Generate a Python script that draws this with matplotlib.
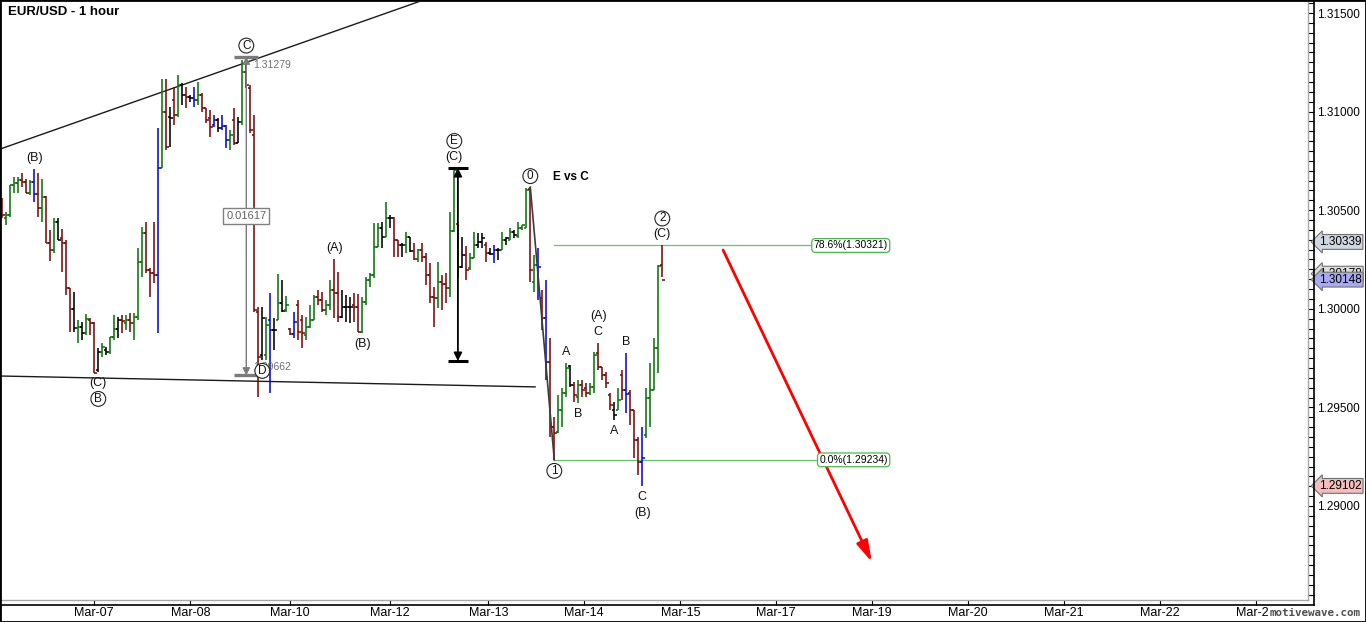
import numpy as np
import matplotlib
matplotlib.use("Agg")
import matplotlib.pyplot as plt
from matplotlib.collections import LineCollection
from matplotlib.lines import Line2D
from matplotlib.patches import Rectangle
from matplotlib.ticker import MultipleLocator, FormatStrFormatter
from matplotlib.transforms import blended_transform_factory

plt.rcParams['font.family'] = ['Liberation Sans', 'DejaVu Sans']

# ---- EUR/USD hourly bars ----
highs = [
    1.30562, 1.30491, 1.30628, 1.30668, 1.30668, 1.30689, 1.30658, 1.30653, 1.30709, 1.30689,
    1.30658, 1.30572, 1.30400, 1.30461, 1.30461, 1.30405, 1.30349, 1.30106, 1.30085, 1.29943,
    1.29933, 1.29974, 1.29953, 1.29933, 1.29801, 1.29827, 1.29806, 1.29857, 1.29969, 1.29958,
    1.29969, 1.29969, 1.29979, 1.29979, 1.30308, 1.30415, 1.30440, 1.30207, 1.30440, 1.30917,
    1.31165, 1.31165, 1.31023, 1.31125, 1.31186, 1.31145, 1.31125, 1.31084, 1.31125, 1.31150,
    1.31094, 1.31018, 1.31008, 1.30983, 1.30968, 1.30983, 1.30932, 1.30907, 1.31018, 1.30973,
    1.31262, 1.31279, 1.31135, 1.30983, 1.30009, 1.30009, 1.29958, 1.30080, 1.29953, 1.30177,
    1.30146, 1.30065, 1.29903, 1.29984, 1.30045, 1.29969, 1.29958, 1.30019, 1.30070, 1.30095,
    1.30085, 1.30045, 1.30146, 1.30253, 1.30187, 1.30095, 1.30070, 1.30060, 1.30080, 1.30075,
    1.30060, 1.30161, 1.30182, 1.30435, 1.30435, 1.30440, 1.30542, 1.30476, 1.30466, 1.30349,
    1.30334, 1.30390, 1.30364, 1.30334, 1.30303, 1.30334, 1.30283, 1.30232, 1.30111, 1.30237,
    1.30171, 1.30182, 1.30491, 1.30714, 1.30430, 1.30364, 1.30319, 1.30283, 1.30390, 1.30384,
    1.30384, 1.30339, 1.30308, 1.30324, 1.30308, 1.30390, 1.30364, 1.30410, 1.30400, 1.30440,
    1.30425, 1.30612, 1.30617, 1.30273, 1.30308, 1.30095, 1.30146, 1.29852, 1.29451, 1.29563,
    1.29598, 1.29725, 1.29715, 1.29629, 1.29639, 1.29639, 1.29624, 1.29624, 1.29781, 1.29827,
    1.29705, 1.29680, 1.29573, 1.29528, 1.29598, 1.29690, 1.29776, 1.29588, 1.29487, 1.29350,
    1.29401, 1.29598, 1.29725, 1.29852, 1.30222, 1.30321,
]
lows = [
    1.30461, 1.30425, 1.30466, 1.30587, 1.30587, 1.30618, 1.30587, 1.30577, 1.30542, 1.30466,
    1.30440, 1.30334, 1.30242, 1.30283, 1.30349, 1.30187, 1.30070, 1.29882, 1.29882, 1.29827,
    1.29842, 1.29867, 1.29867, 1.29675, 1.29680, 1.29756, 1.29766, 1.29771, 1.29842, 1.29852,
    1.29877, 1.29893, 1.29882, 1.29842, 1.29943, 1.30161, 1.30182, 1.30060, 1.30131, 1.29877,
    1.30714, 1.30805, 1.30821, 1.30932, 1.30973, 1.31034, 1.31018, 1.31049, 1.31023, 1.31034,
    1.30998, 1.30942, 1.30871, 1.30922, 1.30897, 1.30907, 1.30815, 1.30805, 1.30831, 1.30841,
    1.30932, 1.31120, 1.30892, 1.29984, 1.29553, 1.29741, 1.29741, 1.29573, 1.29791, 1.29943,
    1.29984, 1.29984, 1.29867, 1.29852, 1.29842, 1.29801, 1.29842, 1.29903, 1.29943, 1.30019,
    1.29984, 1.29969, 1.29994, 1.29953, 1.29933, 1.29953, 1.29933, 1.29928, 1.29933, 1.29882,
    1.29877, 1.30019, 1.30111, 1.30156, 1.30313, 1.30308, 1.30364, 1.30410, 1.30263, 1.30263,
    1.30263, 1.30283, 1.30288, 1.30248, 1.30237, 1.30237, 1.30121, 1.30029, 1.29908, 1.30004,
    1.29994, 1.30029, 1.30060, 1.30390, 1.30156, 1.30207, 1.30146, 1.30197, 1.30258, 1.30308,
    1.30308, 1.30237, 1.30273, 1.30232, 1.30248, 1.30298, 1.30324, 1.30349, 1.30359, 1.30359,
    1.30400, 1.30410, 1.30136, 1.30085, 1.30045, 1.29893, 1.29639, 1.29350, 1.29234, 1.29370,
    1.29401, 1.29553, 1.29604, 1.29528, 1.29522, 1.29553, 1.29553, 1.29563, 1.29573, 1.29690,
    1.29639, 1.29598, 1.29487, 1.29436, 1.29487, 1.29538, 1.29472, 1.29411, 1.29243, 1.29157,
    1.29102, 1.29345, 1.29401, 1.29588, 1.29675, 1.30161,
]
opens = [
    1.30511, 1.30461, 1.30476, 1.30628, 1.30638, 1.30653, 1.30643, 1.30587, 1.30643, 1.30582,
    1.30511, 1.30567, 1.30334, 1.30298, 1.30440, 1.30359, 1.30334, 1.30106, 1.29999, 1.29903,
    1.29908, 1.29877, 1.29943, 1.29928, 1.29690, 1.29781, 1.29791, 1.29781, 1.29857, 1.29898,
    1.29943, 1.29928, 1.29943, 1.29928, 1.29958, 1.30237, 1.30384, 1.30197, 1.30182, 1.30171,
    1.30714, 1.30998, 1.30973, 1.31059, 1.30983, 1.31135, 1.31084, 1.31074, 1.31069, 1.31059,
    1.31084, 1.31018, 1.30968, 1.30932, 1.30957, 1.30917, 1.30927, 1.30856, 1.30957, 1.30841,
    1.30947, 1.31201, 1.31120, 1.30881, 1.29984, 1.29766, 1.29766, 1.29943, 1.29893, 1.29943,
    1.30029, 1.29994, 1.29898, 1.29872, 1.30019, 1.29943, 1.29867, 1.29908, 1.29943, 1.30060,
    1.30045, 1.29994, 1.30019, 1.30095, 1.30080, 1.29958, 1.30009, 1.30009, 1.30019, 1.30009,
    1.29882, 1.30035, 1.30146, 1.30171, 1.30313, 1.30410, 1.30364, 1.30461, 1.30461, 1.30349,
    1.30324, 1.30324, 1.30364, 1.30293, 1.30253, 1.30298, 1.30263, 1.30171, 1.30060, 1.30055,
    1.30136, 1.30126, 1.30106, 1.30395, 1.30430, 1.30212, 1.30273, 1.30207, 1.30258, 1.30324,
    1.30339, 1.30324, 1.30283, 1.30278, 1.30298, 1.30298, 1.30349, 1.30349, 1.30390, 1.30369,
    1.30410, 1.30410, 1.30608, 1.30136, 1.30222, 1.30055, 1.29953, 1.29730, 1.29401, 1.29375,
    1.29487, 1.29573, 1.29710, 1.29614, 1.29553, 1.29614, 1.29598, 1.29573, 1.29604, 1.29776,
    1.29705, 1.29664, 1.29563, 1.29487, 1.29487, 1.29664, 1.29588, 1.29573, 1.29487, 1.29335,
    1.29223, 1.29360, 1.29548, 1.29588, 1.29801, 1.30222,
]
closes = [
    1.30476, 1.30476, 1.30628, 1.30638, 1.30653, 1.30643, 1.30587, 1.30643, 1.30582, 1.30511,
    1.30567, 1.30334, 1.30298, 1.30440, 1.30349, 1.30334, 1.30106, 1.29999, 1.29903, 1.29908,
    1.29877, 1.29948, 1.29928, 1.29675, 1.29781, 1.29806, 1.29781, 1.29857, 1.29898, 1.29943,
    1.29938, 1.29943, 1.29928, 1.29958, 1.30237, 1.30384, 1.30197, 1.30182, 1.30171, 1.30714,
    1.30998, 1.30821, 1.30968, 1.30983, 1.31135, 1.31084, 1.31074, 1.31069, 1.31059, 1.31084,
    1.31018, 1.30957, 1.30922, 1.30957, 1.30917, 1.30927, 1.30856, 1.30881, 1.30841, 1.30947,
    1.31201, 1.31135, 1.30907, 1.29994, 1.29756, 1.29953, 1.29918, 1.29893, 1.29893, 1.30029,
    1.29989, 1.30019, 1.29872, 1.29933, 1.29882, 1.29877, 1.29908, 1.29943, 1.30060, 1.30045,
    1.29994, 1.30019, 1.30095, 1.30080, 1.29958, 1.30009, 1.30009, 1.30009, 1.30009, 1.29882,
    1.30035, 1.30146, 1.30171, 1.30313, 1.30410, 1.30364, 1.30461, 1.30461, 1.30349, 1.30324,
    1.30324, 1.30364, 1.30293, 1.30253, 1.30298, 1.30263, 1.30171, 1.30060, 1.30055, 1.30136,
    1.30126, 1.30106, 1.30395, 1.30704, 1.30212, 1.30273, 1.30197, 1.30258, 1.30324, 1.30339,
    1.30359, 1.30283, 1.30278, 1.30298, 1.30298, 1.30349, 1.30359, 1.30390, 1.30374, 1.30410,
    1.30425, 1.30600, 1.30197, 1.30222, 1.30212, 1.29953, 1.29730, 1.29401, 1.29370, 1.29487,
    1.29573, 1.29700, 1.29614, 1.29563, 1.29614, 1.29588, 1.29573, 1.29604, 1.29766, 1.29705,
    1.29664, 1.29624, 1.29512, 1.29462, 1.29538, 1.29588, 1.29568, 1.29487, 1.29335, 1.29223,
    1.29243, 1.29548, 1.29588, 1.29801, 1.30217, 1.30148,
]
# bar colouring used by the platform: g=up, r=down, b/k = other states
bar_kind = ("rggggrrgbr" "grrgkrrrkg" "kgrrkgkggk" "rgrgggrrrb" "grkrgkrkbg"
            "rrrbkbbgrk" "grrrrkgbkg" "kgrbrrgggr" "rggrrkkkrr" "gggggkgkrr"
            "kgkrgrrrrg" "rrggrkrggk" "krkbkgkgkg" "ggrgbrbrrg" "ggkrgrrggr"
            "rrrkgrbrrr" "bggggr")

# time axis: bar index where each day starts
day_starts = [23, 47, 72, 97, 121.5, 145.5, 169.5, 193.5, 217.5, 241.5, 265.5, 289.5, 313.5]
day_labels = ['Mar-07', 'Mar-08', 'Mar-10', 'Mar-12', 'Mar-13', 'Mar-14', 'Mar-15',
              'Mar-17', 'Mar-19', 'Mar-20', 'Mar-21', 'Mar-22', 'Mar-24']

# Elliott wave labels: (bar, text, at high/low); circled degree written as Ⓒ, ① ...
wave_labels = [
    (8, '(B)', 'hi'), (24, '(C)', 'lo'), (24, 'Ⓑ', 'lo'), (61, 'Ⓒ', 'hi'),
    (65, 'Ⓓ', 'lo'), (83, '(A)', 'hi'), (90, '(B)', 'lo'), (113, '(C)', 'hi'),
    (113, 'Ⓔ', 'hi'), (132, '⓪', 'hi'), (138, '①', 'lo'), (141, 'A', 'hi'),
    (144, 'B', 'lo'), (149, 'C', 'hi'), (149, '(A)', 'hi'), (153, 'A', 'lo'),
    (156, 'B', 'hi'), (160, 'C', 'lo'), (160, '(B)', 'lo'), (165, '(C)', 'hi'),
    (165, '②', 'hi'),
]
circled = {'Ⓑ': 'B', 'Ⓒ': 'C', 'Ⓓ': 'D', 'Ⓔ': 'E', '⓪': '0', '①': '1', '②': '2'}

# drawing tools
upper_trend = [(0, 1.30814), (100, 1.31528)]
lower_trend = [(0, 1.29659), (133, 1.29604)]
measure_bar, measure_top, measure_bottom = 61, 1.31279, 1.29662
swing_bar, swing_top, swing_bottom = 114, 1.30714, 1.29735
fib_from, fib_to, fib_end = 132, 138, 221.4
fib_levels = [0.786, 0.0]
projection = [(180.2, 1.30298), (217.4, 1.28716)]
price_tags = [(1.30339, '#cfd7e2'), (1.30178, '#dedede'), (1.30148, '#a9a9f2'), (1.29102, '#f4bcbc')]

# ---- layout (pixels of a 1366x622 canvas) ----
W, H, DPI = 1366, 622, 100
BAR_PX, FIRST_PX = 4.0, 2.3
PX_PRICE = 19720.0  # pixels per 1.0 of price


def px_box(x0, y0, x1, y1):
    return [x0 / W, 1 - y1 / H, (x1 - x0) / W, (y1 - y0) / H]


fig = plt.figure(figsize=(W / DPI, H / DPI), dpi=DPI)
ax = fig.add_axes(px_box(1, 2, 1308, 600))
ax.set_xlim((1 - FIRST_PX) / BAR_PX, (1308 - FIRST_PX) / BAR_PX)
ax.set_ylim(1.315 - (600 - 13) / PX_PRICE, 1.315 - (2 - 13) / PX_PRICE)

colour_map = {'g': '#0b730b', 'r': '#7a0a0a', 'b': '#0a0ad0', 'k': '#000000'}
segs, cols = [], []
for i in range(len(closes)):
    c = colour_map[bar_kind[i]]
    segs += [[(i, lows[i]), (i, highs[i])],
             [(i - 0.6, opens[i]), (i, opens[i])],
             [(i, closes[i]), (i + 0.6, closes[i])]]
    cols += [c, c, c]
ax.add_collection(LineCollection(segs, colors=cols, linewidths=1.15, capstyle='butt', zorder=3))

# trend lines
for (x0, y0), (x1, y1), xs in [(upper_trend[0], upper_trend[1], (-1, 112)),
                               (lower_trend[0], lower_trend[1], (-1, 133.2))]:
    k = (y1 - y0) / (x1 - x0)
    ax.plot(xs, [y0 + k * (xs[0] - x0), y0 + k * (xs[1] - x0)], color='#1a1a1a', lw=1.0, zorder=2)

# wave 0 -> 1 connector
ax.plot([fib_from, fib_to], [highs[fib_from], lows[fib_to]], color='#3c3c3c', lw=1.2, zorder=4)

# gray measurement tool
gray = '#7a7a7a'
ax.annotate('', xy=(measure_bar, measure_top), xytext=(measure_bar, measure_bottom),
            arrowprops=dict(arrowstyle='<|-|>', color=gray, lw=1.0, mutation_scale=11,
                            shrinkA=0, shrinkB=0), zorder=5)
for yv in (measure_top, measure_bottom):
    ax.plot([measure_bar - 3, measure_bar + 3], [yv, yv], color=gray, lw=2.4, zorder=5,
            solid_capstyle='butt')
ax.annotate(f'{measure_top:.5f}', (measure_bar, measure_top), xytext=(5, -6),
            textcoords='offset points', ha='left', va='center', fontsize=7.5, color='#707070', zorder=6)
ax.annotate(f'{measure_bottom:.5f}', (measure_bar, measure_bottom), xytext=(5, 6),
            textcoords='offset points', ha='left', va='center', fontsize=7.5, color='#707070', zorder=6)
ax.text(measure_bar, (measure_top + measure_bottom) / 2, f'{measure_top - measure_bottom:.5f}',
        ha='center', va='center', fontsize=8, color='#606060', zorder=6,
        bbox=dict(boxstyle='square,pad=0.25', fc='white', ec='#808080', lw=1.0))

# black swing measurement
ax.annotate('', xy=(swing_bar - 0.1, swing_top), xytext=(swing_bar - 0.1, swing_bottom),
            arrowprops=dict(arrowstyle='<|-|>', color='black', lw=1.3, mutation_scale=12,
                            shrinkA=0, shrinkB=0), zorder=5)
for yv in (swing_top, swing_bottom):
    ax.plot([swing_bar - 2.6, swing_bar + 2.4], [yv, yv], color='black', lw=2.2, zorder=5,
            solid_capstyle='butt')

# fibonacci retracement
fib_hi, fib_lo = highs[fib_from], lows[fib_to]
for lvl in fib_levels:
    price = fib_lo + lvl * (fib_hi - fib_lo)
    ax.plot([fib_to, fib_end - 10], [price, price], color='#6cc26c', lw=0.9, zorder=2)
    ax.text(fib_end, price, f'{lvl * 100:.1f}%({price:.5f})', ha='right', va='center',
            fontsize=7.5, zorder=6,
            bbox=dict(boxstyle='round,pad=0.18,rounding_size=0.35', fc='white', ec='#4cb84c', lw=0.9))

# projected path
ax.annotate('', xy=projection[1], xytext=projection[0],
            arrowprops=dict(arrowstyle='-|>,head_width=0.25,head_length=0.9', color='#ff0000',
                            lw=2.0, mutation_scale=14, shrinkA=0, shrinkB=0), zorder=5)

# wave labels
stack = {}
for bar, txt, where in wave_labels:
    level = stack.get((bar, where), 0)
    stack[(bar, where)] = level + 1
    off = (11 + 16 * level) * 0.72
    yv = highs[bar] if where == 'hi' else lows[bar]
    kw = dict(textcoords='offset points', ha='center', va='center', color='#111111', zorder=7)
    if txt in circled:
        ax.annotate(circled[txt], (bar, yv), xytext=(0, off if where == 'hi' else -off),
                    fontsize=8.5, bbox=dict(boxstyle='circle,pad=0.12', fc='white', ec='#222222',
                                            lw=0.8), **kw)
    else:
        ax.annotate(txt, (bar, yv), xytext=(0, off if where == 'hi' else -off), fontsize=9, **kw)
ax.annotate('E vs C', (132, highs[132]), xytext=(23 * 0.72, 10 * 0.72), textcoords='offset points',
            ha='left', va='center', fontsize=8.5, fontweight='bold', zorder=7)

# axes styling
for s in ('left', 'top'):
    ax.spines[s].set_visible(False)
for s in ('right', 'bottom'):
    ax.spines[s].set_color('#a8a8a8')
    ax.spines[s].set_linewidth(1.0)
ax.yaxis.tick_right()
ax.set_yticks(np.arange(1.290, 1.31501, 0.005))
ax.yaxis.set_major_formatter(FormatStrFormatter('%.5f'))
ax.yaxis.set_minor_locator(MultipleLocator(0.0005))
ax.tick_params(axis='y', which='both', direction='out', length=4.3, width=0.8,
               colors='black', pad=2.2, labelsize=8.5)
ax.set_xticks(day_starts)
ax.set_xticklabels(day_labels, fontsize=9)
ax.tick_params(axis='x', direction='out', length=3.6, width=0.8, colors='black', pad=1.5)

# price tags on the axis
tag_tf = blended_transform_factory(fig.transFigure, ax.transData)
for price, fc in price_tags:
    ax.text(1319 / W, price, f'{price:.5f}', transform=tag_tf, ha='left', va='center',
            fontsize=8.5, zorder=10, clip_on=False,
            bbox=dict(boxstyle='larrow,pad=0.12', fc=fc, ec='#707070', lw=0.8))

# frame lines
fig.add_artist(Line2D([1314 / W, 1314 / W], [1 - 605 / H, 1], transform=fig.transFigure,
                      color='black', lw=1.2))
fig.add_artist(Line2D([0, 1314 / W], [1 - 605 / H, 1 - 605 / H], transform=fig.transFigure,
                      color='black', lw=1.2))
fig.add_artist(Rectangle((0, 0), 1, 1, transform=fig.transFigure, fill=False, ec='black', lw=2.0))

fig.text(8 / W, 1 - 12 / H, 'EUR/USD - 1 hour', fontsize=9.5, fontweight='bold', va='center')
fig.text(1270 / W, 1 - 613 / H, 'motivewave.com', family='DejaVu Sans Mono', fontweight='bold',
         fontsize=7.8, color='#505050', va='center', ha='left',
         bbox=dict(boxstyle='square,pad=0.15', fc='white', ec='none'))

fig.savefig('out.png', dpi=DPI)
